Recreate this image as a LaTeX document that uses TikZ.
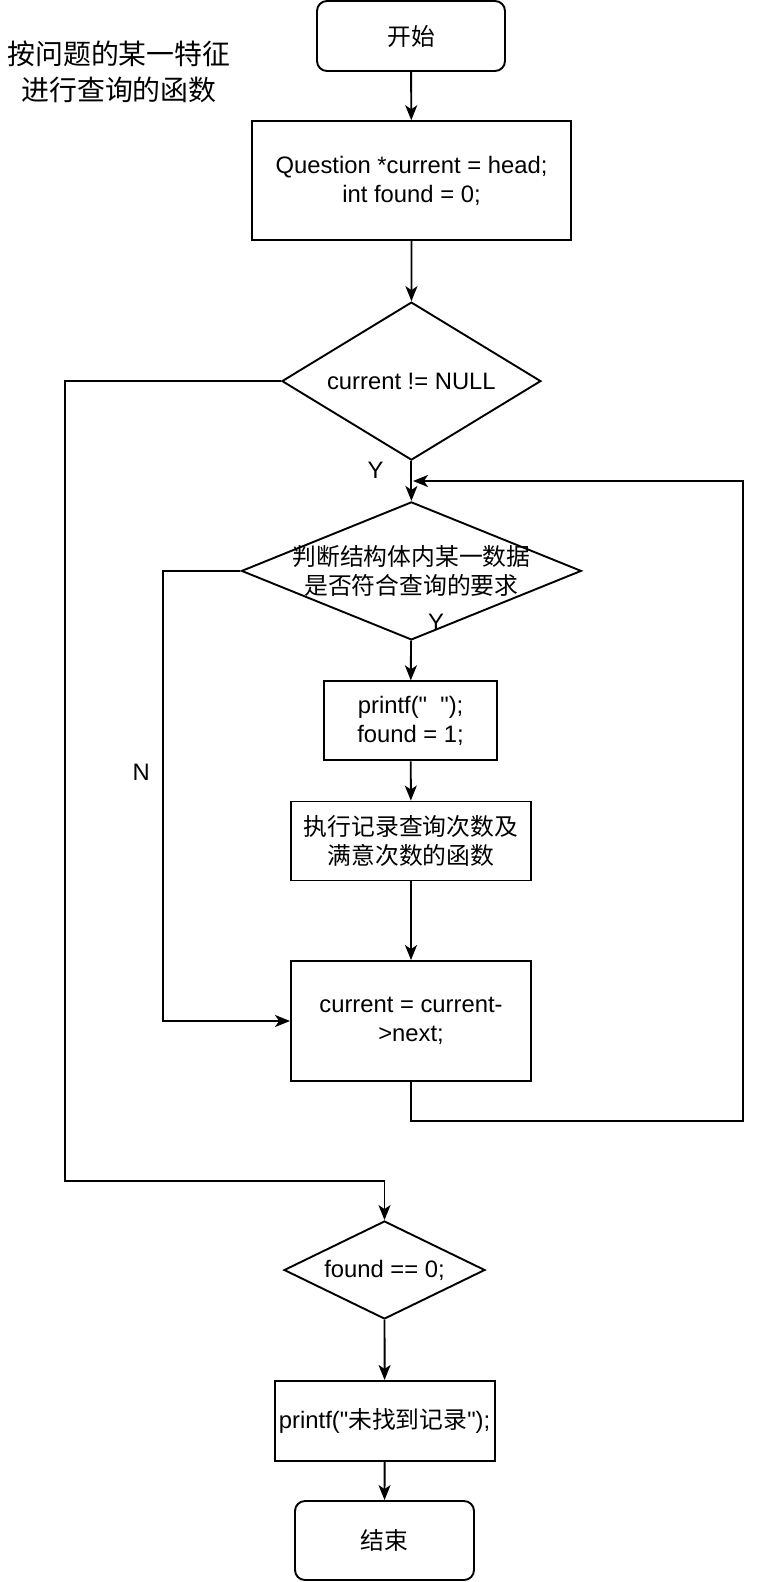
\documentclass[tikz,border=0pt]{standalone}
\usepackage{fontspec}
\newfontfamily\latin{Liberation Sans}
\newfontfamily\cjk{Noto Sans CJK SC}
\usetikzlibrary{shapes.geometric,arrows.meta}
\newcommand{\zh}[1]{{\cjk #1}}

\begin{document}
\begin{tikzpicture}[
    x=1pt, y=-1pt,
    font=\fontsize{23.8}{29}\latin,
    line width=1.9pt,
    box/.style={draw, align=center, inner sep=0pt},
    term/.style={box, rounded corners=10pt},
    dec/.style={draw, diamond, inner sep=0pt},
    arr/.style={-{Stealth[length=15pt,width=12pt,inset=4pt]}}
  ]
  \useasboundingbox (0,0) rectangle (760,1582);
  \node[align=center, font=\fontsize{27.9}{36}\cjk] (title) at (119,72) {按问题的某一特征\\进行查询的函数};

  \node[term, minimum width=188pt, minimum height=70pt] (start) at (411,36) {\zh{开始}};
  \node[box, minimum width=319pt, minimum height=119pt] (init) at (411.5,180.7) {Question *current = head;\\int found = 0;};
  \node[dec, minimum width=259pt, minimum height=158pt, label=center:{current != NULL}] (loop) at (411.4,381.1) {};
  \node[dec, minimum width=340pt, minimum height=138pt, label={[align=center, font=\fontsize{23.8}{29}\cjk]center:判断结构体内某一数据\\是否符合查询的要求}] (check) at (411.4,570.9) {};
  \node[box, minimum width=173pt, minimum height=79pt] (show) at (410.6,720.8) {printf("\ \ ");\\found = 1;};
  \node[box, minimum width=240pt, minimum height=79pt, font=\fontsize{23.8}{29}\cjk] (count) at (411,841) {执行记录查询次数及\\满意次数的函数};
  \node[box, minimum width=240pt, minimum height=120pt] (next) at (411,1021) {current = current-\\>next;};
  \node[dec, minimum width=201pt, minimum height=98pt, label=center:{found == 0;}] (found) at (384.5,1270) {};
  \node[box, minimum width=220pt, minimum height=80pt] (none) at (384.6,1420.9) {printf("\zh{未找到记录}");};
  \node[term, minimum width=179pt, minimum height=79pt] (stop) at (384.5,1540.5) {\zh{结束}};

  % main line
  \draw[arr] (start) -- (init);
  \draw[arr] (init) -- (loop);
  \draw[arr] (loop) -- (check);
  \draw[arr] (check) -- (show);
  \draw[arr] (show) -- (count);
  \draw[arr] (count) -- (next);
  \draw[arr] (found) -- (none);
  \draw[arr] (none) -- (stop);

  % branches
  \coordinate (outer) at (65,1181);
  \coordinate (inner) at (163,1021);
  \coordinate (back1) at (743,1121);
  \coordinate (back2) at (743,481);
  \coordinate (join) at (413,481);
  \draw[arr] (loop.west) -| (outer) -| (found.north);
  \draw[arr] (check.west) -| (inner) -- (next.west);
  \draw[arr] (next.south) |- (back1) -- (back2) -- (join);

  \node (y1) at (375.5,470.4) {Y};
  \node (y2) at (436,622) {Y};
  \node (n1) at (141.3,772.3) {N};
\end{tikzpicture}
\end{document}
